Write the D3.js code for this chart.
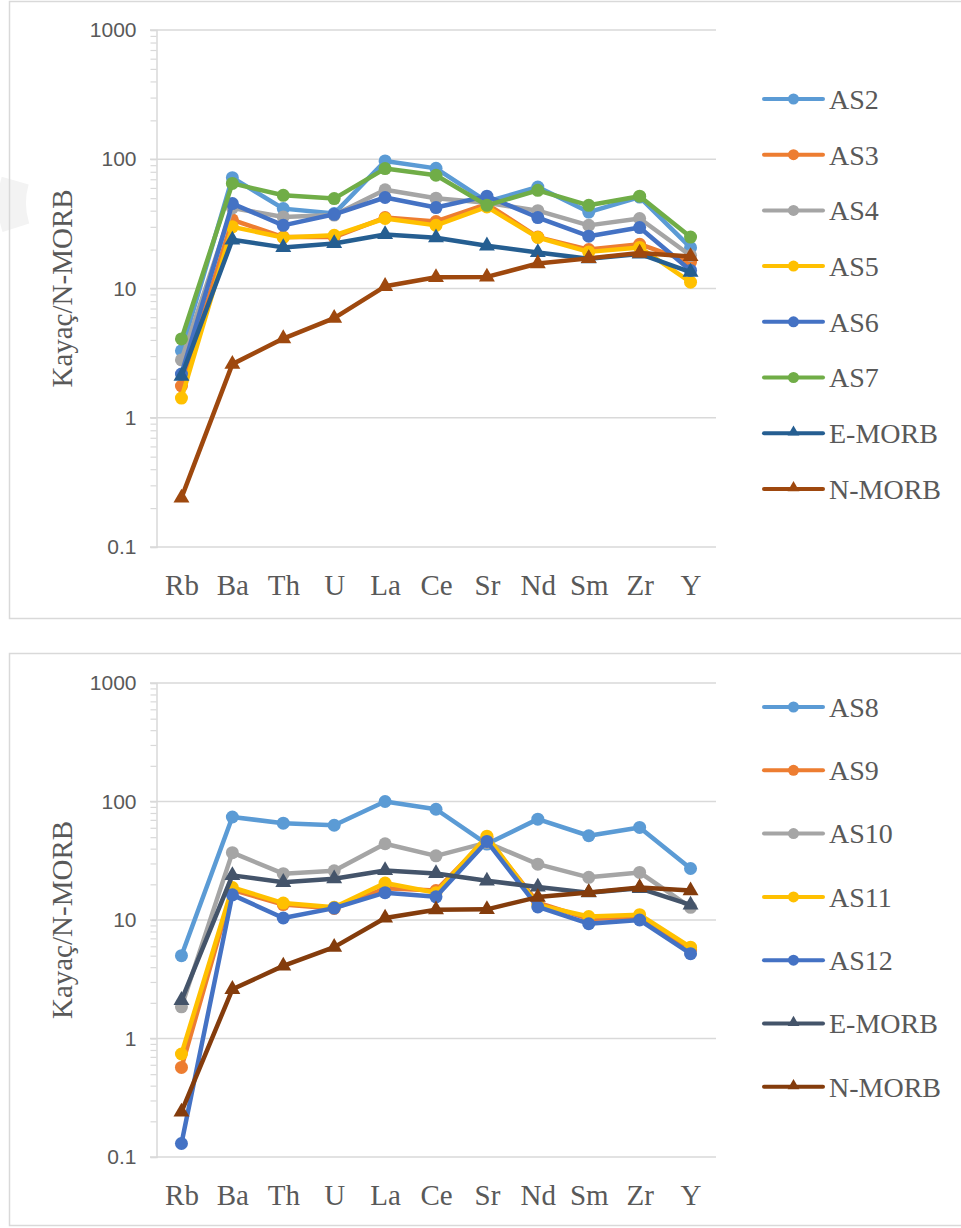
<!DOCTYPE html>
<html>
<head>
<meta charset="utf-8">
<script src="https://cdn.jsdelivr.net/npm/d3@7"></script>
<style>
html,body{margin:0;padding:0;background:#fff;}
svg{display:block;}
.serif{font-family:"Liberation Serif","DejaVu Serif","Times New Roman",Times,serif;}
.sans{font-family:"Liberation Sans","DejaVu Sans",Arial,sans-serif;}
</style>
</head>
<body>
<script>
// ---------- DATA ----------
const categories = ["Rb","Ba","Th","U","La","Ce","Sr","Nd","Sm","Zr","Y"];
const majorTicks = [0.1, 1, 10, 100, 1000];
const majorTickLabels = ["0.1", "1", "10", "100", "1000"];
const yAxisTitle = "Kayaç/N-MORB";

// Chart 1
const AS2  = [3.3, 72, 41.5, 38, 97, 85, 47, 61, 39, 51, 20.7];
const AS3  = [1.76, 34, 25, 25, 35.4, 33, 45, 25, 20, 22, 16];
const AS4  = [2.8, 42, 35.8, 37, 58, 50, 46, 40, 30.8, 34.8, 18];
const AS5  = [1.42, 30, 24.8, 25.8, 34.8, 30.8, 42.8, 24.8, 19.2, 20.8, 11.2];
const AS6  = [2.18, 45.4, 30.8, 37.5, 50.6, 42.3, 51.8, 35.4, 25.4, 29.6, 13.8];
const AS7  = [4.07, 65, 52.6, 49.6, 84.7, 75.2, 44, 57.5, 44, 51.8, 25];
// Chart 2
const AS8  = [5.0, 74, 65.6, 63, 100, 86, 43.7, 71, 51.4, 60.4, 27.2];
const AS9  = [0.57, 18, 13.5, 12.5, 18.5, 17.7, 49, 14, 10.2, 10.6, 5.6];
const AS10 = [1.85, 37, 24.6, 26, 44, 34.8, 45, 29.6, 22.9, 25.2, 12.8];
const AS11 = [0.74, 18.8, 13.9, 12.8, 20.5, 17, 51, 13.4, 10.7, 11.1, 5.9];
const AS12 = [0.13, 16.3, 10.4, 12.6, 17, 15.7, 46, 12.9, 9.3, 10, 5.2];
// Reference lines (both charts)
const EMORB = [2.1, 23.8, 20.8, 22.3, 26.2, 24.7, 21.4, 19, 17, 18.5, 13.4];
const NMORB = [0.24, 2.6, 4.1, 5.9, 10.4, 12.2, 12.3, 15.6, 17.1, 18.8, 17.7];

const series1 = [
  {name:"AS2", values:AS2, color:"#5B9BD5", marker:"circle"},
  {name:"AS3", values:AS3, color:"#ED7D31", marker:"circle"},
  {name:"AS4", values:AS4, color:"#A5A5A5", marker:"circle"},
  {name:"AS5", values:AS5, color:"#FFC000", marker:"circle"},
  {name:"AS6", values:AS6, color:"#4472C4", marker:"circle"},
  {name:"AS7", values:AS7, color:"#70AD47", marker:"circle"},
  {name:"E-MORB", values:EMORB, color:"#255E91", marker:"triangle"},
  {name:"N-MORB", values:NMORB, color:"#9E480E", marker:"triangle"}
];
const series2 = [
  {name:"AS8", values:AS8, color:"#5B9BD5", marker:"circle"},
  {name:"AS9", values:AS9, color:"#ED7D31", marker:"circle"},
  {name:"AS10", values:AS10, color:"#A5A5A5", marker:"circle"},
  {name:"AS11", values:AS11, color:"#FFC000", marker:"circle"},
  {name:"AS12", values:AS12, color:"#4472C4", marker:"circle"},
  {name:"E-MORB", values:EMORB, color:"#44546A", marker:"triangle"},
  {name:"N-MORB", values:NMORB, color:"#843C0C", marker:"triangle"}
];

// ---------- DRAW ----------
const W = 961, H = 1228;
const svg = d3.select("body").append("svg").attr("width", W).attr("height", H);

// faint watermark fragment at the left edge
svg.append("path")
  .attr("transform", "translate(92,203)")
  .attr("d", d3.arc().innerRadius(66).outerRadius(94).startAngle(-Math.PI*0.6).endAngle(-Math.PI*0.41)())
  .attr("fill", "#f3f3f3");

const triangle = d3.symbol().type(d3.symbolTriangle);

function drawChart(cfg) {
  const g = svg.append("g");
  const x = d3.scalePoint().domain(categories).range([156, 716]).padding(0.5);
  const y = d3.scaleLog().domain([0.1, 1000]).range([cfg.yBottom, cfg.yTop]);

  // frame
  g.append("rect")
    .attr("x", 9.5).attr("y", cfg.frameTop + 0.5)
    .attr("width", 960).attr("height", cfg.frameH)
    .attr("fill", "none").attr("stroke", "#d9d9d9").attr("stroke-width", 1.5);

  // gridlines
  g.append("g").selectAll("line").data(majorTicks).join("line")
    .attr("x1", 150).attr("x2", 716)
    .attr("y1", d => y(d)).attr("y2", d => y(d))
    .attr("stroke", "#d9d9d9").attr("stroke-width", 1.5);

  // left axis with minor ticks
  const allTicks = [];
  [0.1, 1, 10, 100].forEach(d => { for (let k = 1; k < 10; k++) allTicks.push(+(d*k).toPrecision(3)); });
  allTicks.push(1000);
  const yAxis = d3.axisLeft(y).tickValues(allTicks).tickSize(6).tickPadding(14)
    .tickFormat(d => { const i = majorTicks.indexOf(d); return i >= 0 ? majorTickLabels[i] : ""; });
  const ya = g.append("g").attr("transform", "translate(156.5,0)").call(yAxis)
    .attr("font-family", null).attr("font-size", null);
  ya.select(".domain").attr("stroke", "#d9d9d9").attr("stroke-width", 1.5);
  ya.selectAll(".tick line").attr("stroke", "#d9d9d9").attr("stroke-width", 1.2);
  ya.selectAll(".tick text").attr("fill", "#595959").attr("class", "sans")
    .style("font-size", "21px");

  // bottom axis labels
  const xAxis = d3.axisBottom(x).tickSize(0).tickPadding(27);
  const xa = g.append("g").attr("transform", `translate(0,${cfg.yBottom})`).call(xAxis)
    .attr("font-family", null).attr("font-size", null);
  xa.select(".domain").remove();
  xa.selectAll(".tick text").attr("fill", "#595959").attr("class", "serif")
    .style("font-size", "29px");

  // y title
  g.append("text").attr("class", "serif")
    .attr("transform", `translate(62,${(cfg.yTop + cfg.yBottom)/2}) rotate(-90)`)
    .attr("text-anchor", "middle").attr("dy", "0.35em")
    .attr("fill", "#595959")
    .style("font-size", "29px")
    .text(yAxisTitle);

  // series
  const line = d3.line().x((d, i) => x(categories[i])).y(d => y(d));
  cfg.series.forEach(s => {
    const sg = g.append("g");
    sg.append("path").datum(s.values).attr("d", line)
      .attr("fill", "none").attr("stroke", s.color).attr("stroke-width", 4.5)
      .attr("stroke-linejoin", "round").attr("stroke-linecap", "round");
    if (s.marker === "circle") {
      sg.selectAll("circle").data(s.values).join("circle")
        .attr("cx", (d, i) => x(categories[i])).attr("cy", d => y(d))
        .attr("r", 6.5).attr("fill", s.color);
    } else {
      sg.selectAll("path.m").data(s.values).join("path").attr("class", "m")
        .attr("transform", (d, i) => `translate(${x(categories[i])},${y(d)})`)
        .attr("d", triangle.size(110)()).attr("fill", s.color);
    }
  });

  // legend
  const lg = g.append("g");
  cfg.series.forEach((s, i) => {
    const cy = cfg.legY0 + i * cfg.legStep;
    lg.append("line").attr("x1", 764).attr("x2", 823).attr("y1", cy).attr("y2", cy)
      .attr("stroke", s.color).attr("stroke-width", 4).attr("stroke-linecap", "round");
    if (s.marker === "circle") {
      lg.append("circle").attr("cx", 793.5).attr("cy", cy).attr("r", 5.5).attr("fill", s.color);
    } else {
      lg.append("path").attr("transform", `translate(793.5,${cy - 1})`)
        .attr("d", triangle.size(60)()).attr("fill", s.color);
    }
    lg.append("text").attr("class", "serif").attr("x", 829).attr("y", cy).attr("dy", "0.35em")
      .attr("fill", "#595959")
      .style("font-size", "28px")
      .text(s.name);
  });
}

drawChart({series: series1, yTop: 30, yBottom: 547, frameTop: 1, frameH: 617, legY0: 99, legStep: 55.7});
drawChart({series: series2, yTop: 683, yBottom: 1157, frameTop: 653, frameH: 572, legY0: 707, legStep: 63.3});
</script>
</body>
</html>
